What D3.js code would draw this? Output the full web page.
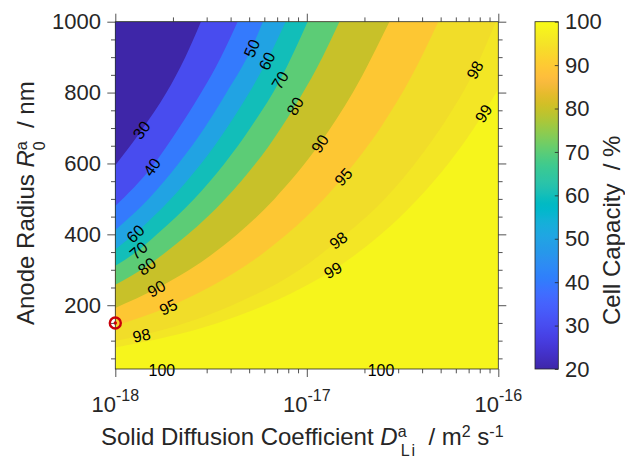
<!DOCTYPE html>
<html><head><meta charset="utf-8">
<script src="https://cdn.jsdelivr.net/npm/d3@7"></script>
<style>
body{margin:0;background:#fff}
text{font-family:"Liberation Sans",Arial,Helvetica,sans-serif}
</style>
</head><body>
<svg id="chart" width="625" height="459"></svg>
<script>
// ---------------- DATA ----------------
// Contour levels of cell capacity (%)
const contourLevels = [30, 40, 50, 60, 70, 80, 90, 95, 98, 99];
// Contour lines: [D (in units of 1e-18 m^2 s^-1), R (nm)]
const c30 = [[1.00,595],[1.37,694],[1.85,800],[2.32,900],[2.80,1000]];
const c40 = [[1.00,480],[1.55,590],[2.15,700],[2.81,800],[3.56,900],[4.35,1000]];
const c50 = [[1.00,412],[1.49,500],[2.14,600],[2.92,700],[3.81,800],[5.15,925],[5.90,1000]];
const c60 = [[1.00,358],[1.27,402],[1.58,450],[2.36,550],[3.30,650],[4.39,750],[6.18,889],[7.75,1000]];
const c70 = [[1.00,311],[1.32,355],[1.65,400],[2.58,500],[3.72,600],[5.07,700],[7.24,835],[10.1,1000]];
const c80 = [[1.00,258],[1.46,310],[1.84,350],[3.04,450],[4.54,550],[6.35,650],[8.67,762],[11.3,870],[14.8,1000]];
const c90 = [[1.00,192],[1.64,247],[2.44,300],[4.34,400],[6.78,500],[11.7,656],[17.4,800],[27.0,1000]];
const c95 = [[1.00,142],[1.89,195],[3.08,250],[6.03,350],[9.97,450],[15.5,562],[24.6,706],[35.0,843],[48.6,1000]];
const c98 = [[1.00,99],[1.37,115],[4.08,200],[9.18,300],[14.6,383],[25.0,495],[40.0,626],[56.0,741],[75.4,864],[97.0,1000]];
const c99 = [[1.00,81],[3.43,150],[9.50,250],[13.7,299],[24.4,400],[38.0,500],[54.9,600],[74.7,700],[83.6,741],[100,810]];
const contourLines = [c30, c40, c50, c60, c70, c80, c90, c95, c98, c99];
// Contour labels: [level, D (1e-18 units), R (nm)]
const contourLabels = [
  [30,1.37,694],[40,1.55,590],[50,5.15,925],[60,6.18,889],[70,7.24,835],[80,8.67,762],
  [90,11.7,656],[95,15.5,562],[98,75.4,864],[99,83.6,741],
  [60,1.27,402],[70,1.32,355],[80,1.46,310],[90,1.64,247],[95,1.89,195],[98,1.37,115],
  [98,14.6,383],[99,13.7,299],[100,1.75,16],[100,24.4,16]
];
// Marked operating point
const markerD = 1.0, markerR = 150;
// Axis ticks
const xTickMajor = [1e-18, 1e-17, 1e-16];
const xTickExp = ["-18", "-17", "-16"];
const xTickMinor = [2e-18,3e-18,4e-18,5e-18,6e-18,7e-18,8e-18,9e-18,2e-17,3e-17,4e-17,5e-17,6e-17,7e-17,8e-17,9e-17];
const yTickMajor = [200, 400, 600, 800, 1000];
const yTickMinor = [50,100,150,250,300,350,450,500,550,650,700,750,850,900,950];
const cbTicks = [20, 30, 40, 50, 60, 70, 80, 90, 100];

// ---------------- STYLE ----------------
// fill colour of the region just below each contour level
const bandColors = ["#3e26a8","#484cef","#347afd","#21a3e3","#12beb9","#5ccc76","#c8c129","#fdc733","#f1dd29","#f3e625"];
const topBandColor = "#f6f51c";
const parula = [[0.2422,0.1504,0.6603],[0.2504,0.1650,0.7076],[0.2578,0.1818,0.7511],[0.2647,0.1978,0.7952],[0.2706,0.2147,0.8364],[0.2751,0.2342,0.8710],[0.2783,0.2559,0.8991],[0.2803,0.2782,0.9221],[0.2813,0.3006,0.9414],[0.2810,0.3228,0.9579],[0.2795,0.3447,0.9717],[0.2760,0.3667,0.9829],[0.2699,0.3892,0.9906],[0.2602,0.4123,0.9952],[0.2440,0.4358,0.9988],[0.2206,0.4603,0.9973],[0.1963,0.4847,0.9892],[0.1834,0.5074,0.9798],[0.1786,0.5289,0.9682],[0.1764,0.5499,0.9520],[0.1687,0.5703,0.9359],[0.1540,0.5902,0.9218],[0.1460,0.6091,0.9079],[0.1380,0.6276,0.8973],[0.1248,0.6459,0.8883],[0.1113,0.6635,0.8763],[0.0952,0.6798,0.8598],[0.0689,0.6948,0.8394],[0.0297,0.7082,0.8163],[0.0036,0.7203,0.7917],[0.0067,0.7312,0.7660],[0.0433,0.7411,0.7394],[0.0964,0.7500,0.7120],[0.1408,0.7584,0.6842],[0.1717,0.7670,0.6554],[0.1938,0.7758,0.6251],[0.2161,0.7843,0.5923],[0.2470,0.7918,0.5567],[0.2906,0.7973,0.5188],[0.3406,0.8008,0.4789],[0.3909,0.8029,0.4354],[0.4456,0.8024,0.3909],[0.5044,0.7993,0.3480],[0.5616,0.7942,0.3045],[0.6174,0.7876,0.2612],[0.6720,0.7793,0.2227],[0.7242,0.7698,0.1910],[0.7738,0.7598,0.1646],[0.8203,0.7498,0.1535],[0.8634,0.7406,0.1596],[0.9035,0.7330,0.1774],[0.9393,0.7288,0.2100],[0.9728,0.7298,0.2394],[0.9956,0.7434,0.2371],[0.9970,0.7659,0.2199],[0.9952,0.7893,0.2028],[0.9892,0.8136,0.1885],[0.9786,0.8386,0.1766],[0.9676,0.8639,0.1643],[0.9610,0.8890,0.1537],[0.9597,0.9135,0.1423],[0.9628,0.9373,0.1265],[0.9691,0.9606,0.1064],[0.9769,0.9839,0.0805]];
const axisColor = "#262626";

// ---------------- LAYOUT ----------------
const P = {left:115.3, right:498.3, top:21.7, bottom:369};
const CB = {left:535, right:558.3};
const unit = 1e-18;

const svg = d3.select("#chart");
const x = d3.scaleLog().domain([1e-18, 1e-16]).range([P.left, P.right]);
const y = d3.scaleLinear().domain([20, 1000]).range([P.bottom, P.top]);

const defs = svg.append("defs");
defs.append("clipPath").attr("id","plotclip").append("rect")
  .attr("x",P.left).attr("y",P.top).attr("width",P.right-P.left).attr("height",P.bottom-P.top);

// ---------------- FILLED CONTOURS ----------------
const plotG = svg.append("g").attr("clip-path","url(#plotclip)");
plotG.append("rect").attr("x",P.left).attr("y",P.top)
  .attr("width",P.right-P.left).attr("height",P.bottom-P.top).attr("fill",topBandColor);

const line = d3.line().x(d => x(d[0]*unit)).y(d => y(d[1])).curve(d3.curveMonotoneX);
function regionPath(pts){
  const last = pts[pts.length-1];
  const corners = [];
  if (last[1] < 1000) corners.push([last[0], 1000]);
  corners.push([pts[0][0], 1000]);
  return line(pts) + corners.map(c => "L" + x(c[0]*unit) + "," + y(c[1])).join("") + "Z";
}
const order = d3.range(contourLines.length).reverse();
plotG.selectAll("path.band").data(order).join("path")
  .attr("class","band")
  .attr("d", i => regionPath(contourLines[i]))
  .attr("fill", i => bandColors[i]);

// ---------------- CONTOUR LABELS ----------------
function angleAt(level, d, r){
  const idx = contourLevels.indexOf(level);
  if (idx < 0) return 0;
  const pts = contourLines[idx].map(p => [x(p[0]*unit), y(p[1])]);
  const px = x(d*unit), py = y(r);
  let best = null, bestDist = Infinity;
  for (let k = 0; k < pts.length-1; k++){
    const a = pts[k], b = pts[k+1];
    const mx = (a[0]+b[0])/2, my = (a[1]+b[1])/2;
    const dist = Math.hypot(mx-px, my-py);
    if (dist < bestDist){ bestDist = dist; best = [a,b]; }
  }
  return Math.atan2(best[1][1]-best[0][1], best[1][0]-best[0][0]) * 180/Math.PI;
}
svg.append("g").selectAll("text").data(contourLabels).join("text")
  .attr("transform", d => `translate(${x(d[1]*unit)},${y(d[2])}) rotate(${angleAt(d[0],d[1],d[2])})`)
  .attr("text-anchor","middle").attr("dy","0.36em")
  .attr("font-size",16).attr("fill","#000")
  .text(d => d[0]);

// ---------------- AXES ----------------
function styleAxis(g){
  g.select(".domain").remove();
  g.selectAll(".tick line").attr("stroke",axisColor).attr("stroke-width",0.8);
  g.selectAll(".tick text").remove();
}
svg.append("g").attr("transform",`translate(0,${P.bottom})`)
  .call(d3.axisBottom(x).tickValues(xTickMajor).tickSize(8).tickFormat("")).call(styleAxis);
svg.append("g").attr("transform",`translate(0,${P.bottom})`)
  .call(d3.axisBottom(x).tickValues(xTickMinor).tickSize(4.3).tickFormat("")).call(styleAxis);
svg.append("g").attr("transform",`translate(0,${P.top})`)
  .call(d3.axisTop(x).tickValues(xTickMajor).tickSize(8).tickFormat("")).call(styleAxis);
svg.append("g").attr("transform",`translate(0,${P.top})`)
  .call(d3.axisTop(x).tickValues(xTickMinor).tickSize(4.3).tickFormat("")).call(styleAxis);
svg.append("g").attr("transform",`translate(${P.left},0)`)
  .call(d3.axisLeft(y).tickValues(yTickMajor).tickSize(8).tickFormat("")).call(styleAxis);
svg.append("g").attr("transform",`translate(${P.left},0)`)
  .call(d3.axisLeft(y).tickValues(yTickMinor).tickSize(4.3).tickFormat("")).call(styleAxis);
svg.append("g").attr("transform",`translate(${P.right},0)`)
  .call(d3.axisRight(y).tickValues(yTickMajor).tickSize(8).tickFormat("")).call(styleAxis);
svg.append("g").attr("transform",`translate(${P.right},0)`)
  .call(d3.axisRight(y).tickValues(yTickMinor).tickSize(4.3).tickFormat("")).call(styleAxis);

svg.append("rect").attr("x",P.left).attr("y",P.top)
  .attr("width",P.right-P.left).attr("height",P.bottom-P.top)
  .attr("fill","none").attr("stroke",axisColor).attr("stroke-width",0.8);

// y tick labels
svg.append("g").selectAll("text").data(yTickMajor).join("text")
  .attr("x",101).attr("y",d => y(d)).attr("dy","0.35em")
  .attr("text-anchor","end").attr("font-size",22).attr("fill",axisColor)
  .text(d => d);

// x tick labels 10^n
xTickMajor.forEach((v,i) => {
  const t = svg.append("text").attr("x",x(v)).attr("y",412)
    .attr("text-anchor","middle").attr("font-size",22).attr("fill",axisColor);
  t.append("tspan").text("10");
  t.append("tspan").attr("font-size",16).attr("dy",-11.5).text(xTickExp[i]);
});

// x axis label
const xl = svg.append("text").attr("x",101).attr("y",445)
  .attr("font-size",24).attr("fill",axisColor).style("white-space","pre");
xl.append("tspan").text("Solid Diffusion Coefficient ");
xl.append("tspan").attr("font-style","italic").text("D");
xl.append("tspan").attr("font-size",16).attr("dy",-8).text("a");
xl.append("tspan").attr("font-size",16).attr("dx",-5.9).attr("dy",19).text("L");
xl.append("tspan").attr("font-size",16).attr("dx",2).text("i");
xl.append("tspan").attr("dy",-11).text("  / m");
xl.append("tspan").attr("font-size",16).attr("dy",-8).text("2");
xl.append("tspan").attr("dy",8).text(" s");
xl.append("tspan").attr("font-size",16).attr("dy",-8).text("-1");

// y axis label
const yl = svg.append("text").attr("transform","translate(33.5,325) rotate(-90)")
  .attr("font-size",24).attr("fill",axisColor).style("white-space","pre");
yl.append("tspan").text("Anode Radius ");
yl.append("tspan").attr("font-style","italic").text("R");
yl.append("tspan").attr("font-size",16).attr("dy",-7).text("a");
yl.append("tspan").attr("font-size",16).attr("dx",-8.9).attr("dy",18.5).text("0");
yl.append("tspan").attr("dy",-11.5).text("  / nm");

// ---------------- COLORBAR ----------------
const cbScale = d3.scaleLinear().domain([20,100]).range([P.bottom, P.top]);
const grad = defs.append("linearGradient").attr("id","parulaGrad")
  .attr("x1",0).attr("y1",1).attr("x2",0).attr("y2",0);
parula.forEach((c,i) => {
  grad.append("stop").attr("offset", i/(parula.length-1))
    .attr("stop-color", d3.rgb(c[0]*255, c[1]*255, c[2]*255).formatHex());
});
svg.append("rect").attr("x",CB.left).attr("y",P.top)
  .attr("width",CB.right-CB.left).attr("height",P.bottom-P.top)
  .attr("fill","url(#parulaGrad)").attr("stroke",axisColor).attr("stroke-width",0.8);
svg.append("g").attr("transform",`translate(${CB.right},0)`)
  .call(d3.axisLeft(cbScale).tickValues(cbTicks).tickSize(3.5).tickFormat("")).call(styleAxis);
svg.append("g").selectAll("text").data(cbTicks).join("text")
  .attr("x",565).attr("y",d => cbScale(d)).attr("dy","0.35em")
  .attr("font-size",22).attr("fill",axisColor).text(d => d);
svg.append("text").attr("transform","translate(620,325) rotate(-90)")
  .attr("font-size",24).attr("fill",axisColor).style("white-space","pre")
  .text("Cell Capacity  / %");

// ---------------- MARKER ----------------
svg.append("circle").attr("cx",x(markerD*unit)).attr("cy",y(markerR)).attr("r",5.5)
  .attr("fill","none").attr("stroke","#c8000a").attr("stroke-width",2.4);
svg.append("circle").attr("cx",x(markerD*unit)).attr("cy",y(markerR)).attr("r",1.7)
  .attr("fill","#c8000a");
</script>
</body></html>
